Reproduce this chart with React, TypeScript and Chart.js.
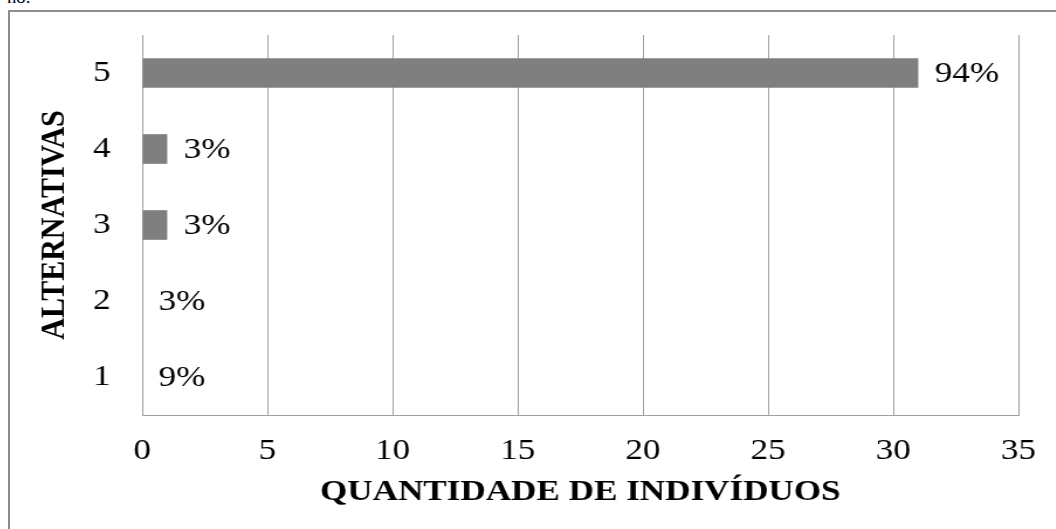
import React, { useEffect, useRef } from "react";
import { Chart, registerables } from "chart.js";

Chart.register(...registerables);

const categories = ["1", "2", "3", "4", "5"];
const counts = [0, 0, 1, 1, 31];
const percentLabels = ["9%", "3%", "3%", "3%", "94%"];
const xTicks = [0, 5, 10, 15, 20, 25, 30, 35];
const xTitle = "QUANTIDADE DE INDIVÍDUOS";
const yTitle = "ALTERNATIVAS";

const STRETCH = 1.17;
const CSS_W = 1040;
const CSS_H = 513;
const W = Math.round(CSS_W / STRETCH);
const H = CSS_H;
const FONT = "'Liberation Serif', 'Times New Roman', serif";

const labelPlugin = {
  id: "barLabels",
  afterDatasetsDraw(chart: any) {
    const ctx = chart.ctx;
    const meta = chart.getDatasetMeta(0);
    ctx.save();
    ctx.font = `30px ${FONT}`;
    ctx.fillStyle = "#000";
    ctx.textAlign = "left";
    ctx.textBaseline = "middle";
    meta.data.forEach((bar: any, i: number) => {
      ctx.fillText(percentLabels[i], bar.x + 14, bar.y + 1);
    });
    ctx.restore();
  },
};

export default function App() {
  const ref = useRef<HTMLCanvasElement>(null);
  useEffect(() => {
    if (!ref.current) return;
    const chart = new Chart(ref.current, {
      type: "bar",
      data: {
        labels: categories,
        datasets: [
          {
            data: counts,
            backgroundColor: "#7f7f7f",
            borderWidth: 0,
            barPercentage: 0.39,
            categoryPercentage: 1,
          },
        ],
      },
      options: {
        indexAxis: "y",
        responsive: false,
        animation: false,
        events: [],
        layout: { padding: { top: 23, right: 27, bottom: 0, left: 0 } },
        plugins: { legend: { display: false }, tooltip: { enabled: false } },
        scales: {
          x: {
            min: 0,
            max: 35,
            afterBuildTicks: (s: any) => {
              s.ticks = xTicks.map((v) => ({ value: v }));
            },
            afterFit: (s: any) => {
              s.height = 110;
              s.paddingLeft = 0;
              s.paddingRight = 0;
              s.paddingTop = 0;
              s.paddingBottom = 0;
            },
            grid: { display: true, color: "#a0a0a0", lineWidth: 1, drawTicks: false },
            border: { display: true, color: "#a0a0a0", width: 1 },
            ticks: {
              padding: 18,
              color: "#000",
              font: { family: FONT, size: 30 },
            },
            title: {
              display: true,
              text: xTitle,
              color: "#000",
              font: { family: FONT, size: 30, weight: "bold" },
              padding: { top: 0, bottom: 15 },
            },
          },
          y: {
            reverse: true,
            afterFit: (s: any) => {
              s.width = 113;
              s.paddingLeft = 0;
              s.paddingRight = 0;
              s.paddingTop = 0;
              s.paddingBottom = 0;
            },
            grid: { display: false, drawTicks: false },
            border: { display: true, color: "#a0a0a0", width: 1 },
            ticks: {
              padding: 27,
              color: "#000",
              font: { family: FONT, size: 30 },
            },
            title: {
              display: true,
              text: yTitle,
              color: "#000",
              font: { family: FONT, size: 30, weight: "bold" },
              padding: { top: 20, bottom: 0 },
            },
          },
        },
      },
      plugins: [labelPlugin],
    } as any);
    return () => chart.destroy();
  }, []);

  return (
    <div>
      <div
        style={{
          position: "absolute",
          left: 7,
          top: -10,
          fontFamily: FONT,
          fontSize: 16,
          lineHeight: "16px",
          transform: `scaleX(${STRETCH})`,
          transformOrigin: "left top",
          color: "#000",
        }}
      >
        no.
      </div>
      <div
        style={{
          position: "absolute",
          left: 8,
          top: 10,
          width: 1060,
          height: 540,
          borderLeft: "2px solid #8c8c8c",
          borderTop: "2px solid #8c8c8c",
          boxSizing: "border-box",
        }}
      />
      <div style={{ position: "absolute", left: 10, top: 12 }}>
        <canvas
          ref={ref}
          width={W}
          height={H}
          style={{ width: `${CSS_W}px`, height: `${CSS_H}px`, display: "block" }}
        />
      </div>
    </div>
  );
}
